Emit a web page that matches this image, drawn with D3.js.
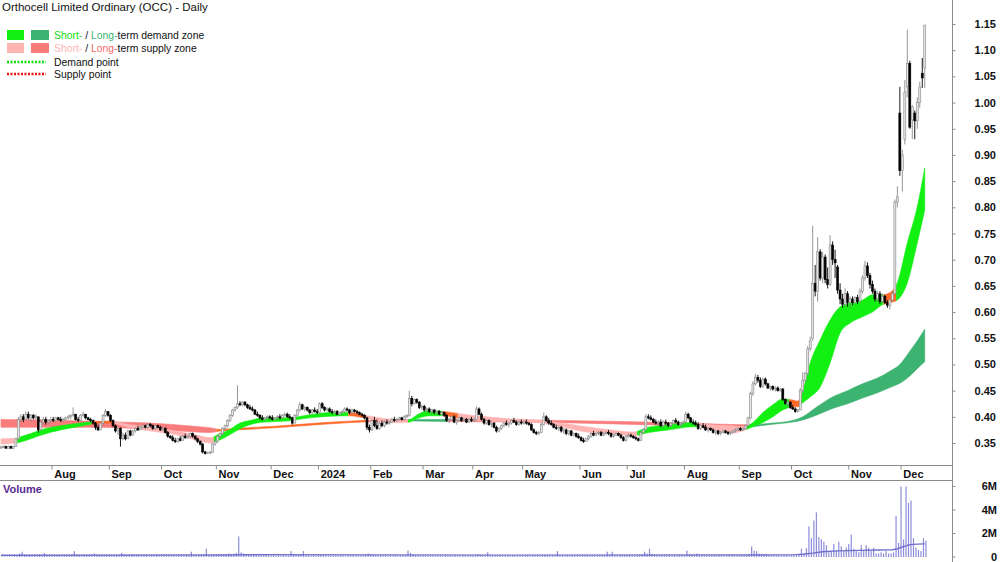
<!DOCTYPE html>
<html>
<head>
<meta charset="utf-8">
<script src="https://cdn.jsdelivr.net/npm/d3@7"></script>
<style>
  html, body { margin: 0; padding: 0; background: #fff; }
  svg { display: block; font-family: Arial, 'Liberation Sans', sans-serif; }
</style>
</head>
<body>
<svg id="chart" width="1000" height="562"></svg>
<script>
// trading calendar
const firstDay = '2023-07-03';
const lastDay = '2024-12-13';
const holidays = ['2023-12-25', '2023-12-26', '2024-01-01', '2024-01-26', '2024-03-29', '2024-04-01', '2024-04-25', '2024-06-10'];

// daily [open, high, low, close] in cents, one array per month
const jul23 = [[34,34.5,34,34.2],[34.2,34.5,34,34.3],[34.3,34.5,34,34],[34,34.5,34,34.3],[34.3,34.5,34,34],[34,34.5,33.8,34.3],[34.3,36,34.3,35.8],[35.8,40,35.5,39.5],[39.5,40.5,39,40],[40,40.5,39,39.5],[39.5,41,39.5,40.5],[40.5,41,39.5,39.8],[39.8,40.5,39,40.3],[40.3,40.5,39.5,39.8],[39.8,40.5,39.5,40],[40,40,37,37.5],[37.5,39.5,37.5,39],[39,40,38.5,39.5],[39.5,40,38.5,39],[39,39.5,38.5,39.3],[39.3,40,39,39.5]];
const aug23 = [[39.5,40,39,39.3],[39.3,40,39,39.8],[39.8,40,39.3,39.5],[39.5,40,39,39.3],[39.3,39.8,39,39.5],[39.5,40,39.3,39.8],[39.8,40.3,39.5,40],[40,40.5,39.5,40.3],[40.3,41.8,40,40.5],[40.5,40.5,39.3,39.5],[39.5,40,39,39.3],[39.3,40.5,39.3,40.3],[40.3,41,40,40.5],[40.5,40.5,39.5,39.8],[39.8,40,39.3,39.5],[39.5,39.8,39,39.3],[39.3,39.5,38.5,38.8],[38.8,39,37.5,38],[38,38.5,37.3,37.5],[37.5,39,37.5,38.8],[38.8,40.5,38.5,40.3],[40.3,41.5,40,41],[41,41,40,40.3]];
const sep23 = [[40.3,40.5,39,39.3],[39.3,39.5,38,38.3],[38.3,38.5,37,37.3],[37.3,38,36.5,37.8],[37.8,38,34.3,35.8],[35.8,37,35.5,36.5],[36.5,37,35.5,35.8],[35.8,37.5,35.8,37.3],[37.3,37.5,36.3,36.5],[36.5,37.5,36.5,37.3],[37.3,38,37,37.8],[37.8,38.3,37.3,37.5],[37.5,38.3,37.5,38],[38,38.5,37.8,38.3],[38.3,38.5,37.8,38],[38,38.8,37.8,38.5],[38.5,38.8,38,38.3],[38.3,38.5,37.5,37.8],[37.8,38.5,37.5,38.3],[38.3,38.5,37.8,38],[38,38.3,37.3,37.5]];
const oct23 = [[37.5,38,37.3,37.8],[37.8,38,36.8,37],[37,37.3,36,36.3],[36.3,36.5,35.8,36],[36,36.5,35.3,35.5],[35.5,36,35,35.3],[35.3,36,35,35.8],[35.8,36.3,35.3,35.5],[35.5,36.5,35.5,36.3],[36.3,36.8,35.8,36],[36,36.5,35.8,36.3],[36.3,37,36,36.8],[36.8,37,36,36.3],[36.3,36.5,35.5,35.8],[35.8,36,35,35.3],[35.3,35.5,34.5,34.8],[34.8,35,33,33.3],[33.3,33.5,32.8,33],[33,33.3,33,33.2],[33.2,33.5,33,33.2],[33.2,35,33.2,34.8],[34.8,35.5,34.5,35.3]];
const nov23 = [[35.3,36.5,35,36.3],[36.3,37,36,36.8],[36.8,38,36.5,37.8],[37.8,38.5,37.5,38.3],[38.3,39.5,38,39.3],[39.3,40.5,39,40.3],[40.3,41.5,40,41.3],[41.3,42,41,41.8],[41.8,46,41.5,42.5],[42.5,43,42,42.3],[42.3,43,42,42.8],[42.8,43,42,42.3],[42.3,42.5,41.5,41.8],[41.8,42.3,41.3,41.5],[41.5,42,41,41.3],[41.3,41.5,40.3,40.5],[40.5,41,40,40.3],[40.3,40.5,39.5,39.8],[39.8,40.3,39.3,39.5],[39.5,40,39.3,39.8],[39.8,40.3,39.5,40],[40,40.3,39.5,39.8]];
const dec23 = [[39.8,40.3,39.3,39.5],[39.5,40,39.3,39.8],[39.8,40.3,39.5,40],[40,40.5,39.5,39.8],[39.8,40.5,39.5,40.3],[40.3,40.8,40,40.5],[40.5,40.8,39.8,40],[40,40.5,39.5,39.8],[39.8,40,38.5,38.8],[38.8,40.5,38.8,40.3],[40.3,41.5,40,41.3],[41.3,42.8,41,42.3],[42.3,42.5,41.3,41.5],[41.5,42,41,41.8],[41.8,42,41,41.3],[41.3,41.5,40.5,40.8],[40.8,41.5,40.5,41.3],[41.3,41.8,40.8,41],[41,41.5,40.5,40.8]];
const jan24 = [[40.8,42.8,40.5,42.5],[42.5,42.8,41.5,41.8],[41.8,42,41,41.3],[41.3,41.8,41,41.5],[41.5,41.8,40.8,41],[41,41.5,40.5,40.8],[40.8,41.3,40.5,41],[41,41.3,40.3,40.5],[40.5,41,40.3,40.8],[40.8,41.3,40.5,41],[41,41.8,40.8,41.5],[41.5,41.8,41,41.3],[41.3,41.5,40.5,40.8],[40.8,41.5,40.5,41.3],[41.3,41.5,40.8,41],[41,41.3,40.5,40.8],[40.8,41,40.3,40.5],[40.5,40.8,40,40.3],[40.3,40.5,39.5,39.8],[39.8,40,37.5,38],[38,38.5,37,37.5]];
const feb24 = [[37.5,39.5,37.3,39.3],[39.3,40,38,38.3],[38.3,39.5,37.5,37.8],[37.8,39,37.5,38.8],[38.8,39.3,38,38.3],[38.3,39.3,38,39],[39,39.5,38.5,38.8],[38.8,39.3,38.5,39],[39,39.8,38.8,39.5],[39.5,40,39,39.3],[39.3,39.8,39,39.5],[39.5,40,39.3,39.8],[39.8,40,39.3,39.5],[39.5,40.3,39.3,40],[40,40.5,39.8,40.3],[40.3,45,40,43.5],[43.5,44,42,42.5],[42.5,43.5,42.3,43.3],[43.3,43.5,42.5,42.8],[42.8,43,41.5,41.8],[41.8,42.3,41.3,42]];
const mar24 = [[42,42.3,41,41.3],[41.3,41.8,40.8,41.5],[41.5,41.8,40.8,41],[41,41.5,40.5,41.3],[41.3,41.5,40.5,40.8],[40.8,41.3,40.5,41],[41,41.3,40.3,40.5],[40.5,41,40.3,40.8],[40.8,41,40,40.3],[40.3,40.5,39,39.3],[39.3,39.8,38.8,39.5],[39.5,40.3,39.3,40],[40,40.3,38.8,39],[39,39.5,38.5,39.3],[39.3,40,39,39.8],[39.8,40,39,39.3],[39.3,39.8,39,39.5],[39.5,39.8,38.8,39],[39,39.8,38.8,39.5],[39.5,40,39,39.3]];
const apr24 = [[39.3,39.8,39,39.5],[39.5,42,39.5,41.5],[41.5,41.8,40.3,40.5],[40.5,40.8,39.3,39.5],[39.5,39.8,38.5,38.8],[38.8,39.5,38.5,39.3],[39.3,39.5,38.3,38.5],[38.5,39,38,38.8],[38.8,39,37.8,38],[38,38.3,37,37.3],[37.3,38,37,37.8],[37.8,38.5,37.5,38.3],[38.3,39,38,38.8],[38.8,39.3,38.3,38.5],[38.5,39,38,38.8],[38.8,39.5,38.5,39.3],[39.3,39.8,38.8,39],[39,39.3,38.3,38.5],[38.5,39.3,38.3,39],[39,39.5,38.5,38.8]];
const may24 = [[38.8,39.3,38.5,39],[39,39.5,38.5,38.8],[38.8,39,38.3,38.5],[38.5,38.8,37.3,37.5],[37.5,37.8,36.8,37],[37,37.3,36.5,36.8],[36.8,37.3,36.5,37],[37,38.8,37,38.5],[38.5,40.8,38.3,40],[40,40.3,39,39.3],[39.3,39.8,38.5,38.8],[38.8,39.3,38.3,38.5],[38.5,38.8,37.8,38],[38,38.5,37.5,37.8],[37.8,38.3,37.3,38],[38,38.3,37,37.3],[37.3,37.8,36.8,37.5],[37.5,37.8,36.5,36.8],[36.8,37.5,36.5,37.3],[37.3,37.5,36.3,36.5],[36.5,37,36.3,36.8],[36.8,37,36,36.3],[36.3,36.8,35.8,36]];
const jun24 = [[36,36.3,35.3,35.5],[35.5,36,35,35.3],[35.3,36,35.3,35.8],[35.8,36.5,35.5,36.3],[36.3,37,36,36.8],[36.8,37.3,36.3,36.5],[36.5,37,36.3,36.8],[36.8,37.3,36.5,37],[37,37.3,36.3,36.5],[36.5,37,36.3,36.8],[36.8,37.3,36.5,37],[37,37.5,36.5,36.8],[36.8,37,36,36.3],[36.3,36.8,36,36.5],[36.5,37,36.3,36.8],[36.8,37,36.3,36.5],[36.5,36.8,35.8,36],[36,36.3,35.3,35.5],[35.5,36.5,35.3,36.3]];
const jul24 = [[36.3,36.8,36,36.5],[36.5,36.8,36,36.3],[36.3,36.5,35.8,36],[36,36.3,35.5,35.8],[35.8,36,35.3,35.5],[35.5,37.3,35.5,37],[37,37.8,36.8,37.5],[37.5,40.5,37.5,40],[40,40.5,39.5,39.8],[39.8,40.3,39.3,39.5],[39.5,39.8,38.8,39],[39,39.5,38.5,38.8],[38.8,39.3,38.3,39],[39,39.5,38,38.3],[38.3,39.3,38,39],[39,39.5,38.5,38.8],[38.8,39,38,38.3],[38.3,39,38,38.8],[38.8,39.5,38.5,39.3],[39.3,39.8,38.8,39],[39,39.3,38.3,38.5],[38.5,39,38,38.8],[38.8,39.3,38.5,39]];
const aug24 = [[39,41,38.8,40.5],[40.5,40.8,39.5,39.8],[39.8,40,38.8,39],[39,39.5,38.5,38.8],[38.8,39.3,38.3,38.5],[38.5,39,37.5,37.8],[37.8,38.5,37.5,38.3],[38.3,38.8,37.8,38],[38,38.5,37.3,37.5],[37.5,38,37,37.8],[37.8,38,37.3,37.5],[37.5,37.8,36.8,37],[37,37.5,36.5,37.3],[37.3,37.5,36.5,36.8],[36.8,37.3,36.5,37],[37,37.5,36.8,37.3],[37.3,37.5,36.8,37],[37,37.3,36.5,36.8],[36.8,37.3,36.5,37],[37,37.5,36.8,37.3],[37.3,37.8,37,37.5],[37.5,38,37.3,37.8]];
const sep24 = [[37.8,38,37.3,37.5],[37.5,38,37.3,37.8],[37.8,38.5,37.5,38.3],[38.3,40,38,39.8],[39.8,44.8,39.5,44.5],[44.5,46.8,44,46.3],[46.3,48.2,46,47.5],[47.5,48,46.5,47],[47,47.5,45.5,45.8],[45.8,47.5,45.5,47.2],[47.2,47.5,46,46.3],[46.3,46.5,45.3,45.5],[45.5,46,45,45.8],[45.8,46,45,45.3],[45.3,45.8,44.8,45.5],[45.5,45.8,44.8,45],[45,45.5,44.8,45.3],[45.3,45.5,43,43.3],[43.3,43.5,42.3,42.5],[42.5,43,41.8,42.8],[42.8,43,41.5,41.8]];
const oct24 = [[41.8,42.3,41.3,41.5],[41.5,41.8,40.8,41],[41,41.5,40.8,41.3],[41.3,45.5,41.3,45],[45,48.5,44.5,47],[47,48.6,46.5,48.3],[48.3,53.5,48,53],[53,55.3,52.5,54.5],[55,76.5,54.5,65.5],[65.5,69,63,64],[64,74.3,62,71.5],[71.5,72,66,66.5],[66.5,71.5,65.5,70.5],[70.5,71,65.5,66.2],[66.2,68.5,64.5,65.3],[65.3,74.7,65,72.8],[72.8,73.5,69,70],[70,71.9,66.5,69.4],[68.6,69,63.5,64.2],[64.2,65.5,61.5,62.5],[62.5,63.5,60.8,61.5],[61.5,64.5,61,63.5],[63.5,64,61,61.8]];
const nov24 = [[61.8,63,60.8,62.5],[62.5,63,61.3,61.8],[61.8,63,61.5,62.8],[62.8,63.3,61.5,62],[62,64.5,61.8,64],[64,67,63.5,66.5],[66.5,69.8,66,68.8],[68.8,69.5,66.5,67],[67,67.5,64.5,65.3],[65.3,66,63.5,64],[64,64.5,62,62.5],[62.5,64,62,63.5],[63.5,64,61.5,62],[62,63.5,61.8,63],[63,63.3,61.5,61.8],[61.8,62.3,60.8,61.3],[61.3,62.5,60.5,62.3],[62.3,64,62,63.5],[63.5,81.5,63.5,81],[81,84,80,82],[98,103,86,87]];
const dec24 = [[87,91,83,90],[93,104.3,92,102],[103,113.9,101,107.5],[107.5,108,95,95.3],[96.7,99.5,93,99.2],[98,98.5,93,96.5],[96.5,101,95,100],[100,104,99,103],[105.6,108.5,102.8,104.7],[106.6,114.8,102.8,114.8]];

// daily volume in thousands, one array per month
const volJul23 = [60,50,40,70,50,80,150,300,450,200,150,120,100,180,140,220,130,350,110,90,100];
const volAug23 = [120,90,110,80,130,100,90,150,500,160,120,90,100,140,110,80,300,130,150,110,90,160,120];
const volSep23 = [110,130,150,120,350,200,140,100,90,120,80,100,70,90,110,80,100,90,120,80,100];
const volOct23 = [100,90,120,80,110,70,90,100,80,120,90,450,100,80,130,150,200,700,120,90,150,200];
const volNov23 = [250,200,180,220,300,250,280,350,1750,400,300,250,200,180,150,200,130,120,110,140,100,90];
const volDec23 = [100,90,120,80,110,100,90,500,250,150,200,200,500,120,100,90,110,80,100];
const volJan24 = [150,120,100,90,110,80,100,90,120,80,70,100,90,110,80,100,90,120,150,300,200];
const volFeb24 = [150,120,100,130,90,110,80,100,90,120,80,100,110,150,550,350,200,150,120,100,110];
const volMar24 = [120,100,90,110,80,100,90,80,120,90,100,80,110,90,70,100,90,80,100,90];
const volApr24 = [100,250,150,120,100,400,90,110,80,100,120,90,80,100,90,110,80,70,100,90];
const volMay24 = [90,100,80,120,110,90,100,150,200,120,100,90,80,500,110,90,80,100,90,110,80,100,90];
const volJun24 = [120,100,90,80,110,90,100,80,90,110,450,90,450,100,80,90,110,120,150];
const volJul24 = [100,90,80,110,120,200,450,300,700,250,150,120,100,140,90,110,100,80,120,90,100,110,90];
const volAug24 = [550,200,150,120,300,100,110,90,80,100,90,120,80,100,90,70,80,100,90,110,80,100];
const volSep24 = [100,120,150,250,900,550,500,300,200,250,150,120,100,110,90,100,80,150,120,100,130];
const volOct24 = [150,120,200,700,300,750,2600,1600,3100,3800,1700,1500,1300,1000,400,500,1100,600,1300,900,500,800,1100];
const volNov24 = [1900,700,500,400,1000,500,1000,800,500,800,300,300,400,300,500,300,300,400,3500,1200,6000];
const volDec24 = [1500,6000,4600,4800,1600,800,600,500,1600,1400];

// volume moving average [day index, thousands]
const volumeAvg = [[0,150],[90,170],[100,190],[200,160],[300,170],[318,180],[322,230],[326,330],[330,450],[336,520],[345,560],[352,600],[358,620],[360,700],[362,850],[365,1050],[368,1100],[371,1120]];

// zones: [day index, upper, lower] in cents
const shortBand = [[0,35.8,34.8],[6,35.9,35.0],[8,36.2,35.2],[12,36.8,35.8],[16,37.5,36.5],[24,38.3,37.5],[32,38.8,38.2],[38,39.1,38.7],[44,39.2,38.8],[52,38.5,37.9],[60,38.1,37.3],[70,37.3,36.6],[78,36.6,35.6],[84,36.0,35.0],[88,36.8,35.6],[92,37.6,36.6],[96,38.8,37.7],[100,39.3,38.5],[106,39.8,39.0],[115,39.8,39.2],[124,40.4,39.8],[132,40.8,40.1],[140,40.8,40.2],[146,40.3,39.8],[155,39.6,38.9],[163,39.3,38.9],[168,40.6,39.8],[172,41.2,40.2],[178,41.0,40.2],[184,40.6,39.7],[195,40.0,39.2],[205,39.6,39.0],[215,39.4,38.9],[225,38.8,38.1],[235,38.1,37.1],[245,37.5,36.8],[254,37.1,36.4],[260,38.0,37.0],[268,38.5,37.5],[278,38.9,38.1],[285,38.5,37.7],[293,38.3,36.9],[299,38.1,37.5],[302,38.9,38.1],[306,40.8,38.9],[310,42.3,40.0],[314,43.4,41.3],[318,43.2,41.9],[320,43.0,41.9],[322,45.0,42.7],[325,50.3,43.8],[329,54.7,45.7],[333,58.5,50.3],[337,61.0,56.0],[341,61.8,57.9],[346,62.3,59.1],[350,63.3,60.0],[354,63.3,61.4],[357,63.7,61.8],[360,65.6,62.3],[364,73.2,65.6],[368,80.1,73.2],[371,87.5,79.5]];
const longBand = [[0,39.5,38.0],[20,39.4,38.0],[40,39.1,38.0],[60,38.8,37.6],[75,38.3,37.2],[84,37.9,37.0],[88,37.6,37.3],[95,37.8,37.5],[110,38.2,37.9],[130,38.9,38.6],[145,39.3,39.0],[165,39.5,39.2],[180,39.5,39.1],[210,39.4,39.0],[250,39.1,38.6],[275,38.8,38.3],[300,38.5,38.1],[310,38.8,38.6],[318,39.3,39.0],[322,40.0,39.4],[328,42.0,40.4],[334,43.8,41.6],[340,45.0,42.5],[346,46.3,43.6],[352,47.4,44.6],[357,48.7,45.6],[361,50.0,46.4],[365,52.5,47.8],[368,54.5,49.2],[371,56.7,50.5]];

// colour runs along each band: [from index, to index, zone]
const shortRuns = [[0,6,'ss'],[7,36,'sd'],[37,45,'mix'],[46,85,'ss'],[86,139,'sd'],[140,146,'mix'],[147,163,'ss'],[164,177,'sd'],[178,183,'mix'],[184,255,'ss'],[256,279,'sd'],[280,299,'ss'],[300,316,'sd'],[317,321,'mix'],[322,354,'sd'],[355,359,'mix'],[360,371,'sd']];
const longRuns = [[0,86,'ls'],[87,146,'mix'],[147,163,'ls'],[164,179,'ld'],[180,300,'ls'],[301,371,'ld']];

const priceTicks = [0.35,0.40,0.45,0.50,0.55,0.60,0.65,0.70,0.75,0.80,0.85,0.90,0.95,1.00,1.05,1.10,1.15];
const volumeTicks = [0, 2000, 4000, 6000];
const volumeTickLabels = ['0', '2M', '4M', '6M'];

const zoneColors = { sd: '#11f011', ld: '#3cb371', ss: '#ffb4b4', ls: '#f87c7c', mix: '#ff6a2a' };

const ohlc = [].concat(jul23, aug23, sep23, oct23, nov23, dec23, jan24, feb24, mar24, apr24, may24, jun24, jul24, aug24, sep24, oct24, nov24, dec24);
const volumes = [].concat(volJul23, volAug23, volSep23, volOct23, volNov23, volDec23, volJan24, volFeb24, volMar24, volApr24, volMay24, volJun24, volJul24, volAug24, volSep24, volOct24, volNov24, volDec24);

const parse = d3.timeParse('%Y-%m-%d');
const fmtDay = d3.timeFormat('%Y-%m-%d');
const days = d3.timeDay.range(parse(firstDay), d3.timeDay.offset(parse(lastDay), 1))
  .filter((d) => d.getDay() !== 0 && d.getDay() !== 6 && !holidays.includes(fmtDay(d)));

const svg = d3.select('#chart');
const axisX = 952.5;
const priceBottom = 465.5;
const volTop = 480.5;
const step = 2.49;
const n = ohlc.length;

const x = d3.scaleLinear().domain([0, n - 1]).range([0.95, 0.95 + step * (n - 1)]);
const y = d3.scaleLinear().domain([35, 115]).range([443, 24]);
const yv = d3.scaleLinear().domain([0, 6000]).range([557, 486.5]);

// panel lines
svg.append('line').attr('x1', axisX).attr('x2', axisX).attr('y1', 0).attr('y2', 562).attr('stroke', '#8c8c8c');
svg.append('line').attr('x1', 0).attr('x2', axisX).attr('y1', priceBottom).attr('y2', priceBottom).attr('stroke', '#8c8c8c');
svg.append('line').attr('x1', 0).attr('x2', axisX).attr('y1', volTop).attr('y2', volTop).attr('stroke', '#8c8c8c');

// zones
const defs = svg.append('defs');
function drawBand(points, runs, key) {
  const area = d3.area()
    .x((d) => x(d[0]))
    .y0((d) => y(d[2]))
    .y1((d) => y(d[1]))
    .curve(d3.curveMonotoneX);
  const g = svg.append('g');
  runs.forEach((r, k) => {
    const id = `clip-${key}-${k}`;
    defs.append('clipPath').attr('id', id)
      .append('rect')
      .attr('x', x(r[0]) - step / 2)
      .attr('width', x(r[1]) - x(r[0]) + step)
      .attr('y', 0)
      .attr('height', priceBottom);
    g.append('path')
      .datum(points)
      .attr('clip-path', `url(#${id})`)
      .attr('fill', zoneColors[r[2]])
      .attr('stroke', zoneColors[r[2]])
      .attr('stroke-width', 0.6)
      .attr('d', area);
  });
}
drawBand(longBand, longRuns, 'long');
drawBand(shortBand, shortRuns, 'short');

// candles
const candle = svg.append('g')
  .selectAll('g')
  .data(ohlc)
  .join('g');

candle.append('line')
  .attr('x1', (d, i) => x(i))
  .attr('x2', (d, i) => x(i))
  .attr('y1', (d) => y(d[1]))
  .attr('y2', (d) => y(d[2]))
  .attr('stroke', (d) => (d[3] >= d[0] ? '#8a8a8a' : '#000'))
  .attr('stroke-width', 0.9);

candle.append('rect')
  .attr('x', (d, i) => x(i) - 1)
  .attr('width', 2)
  .attr('y', (d) => y(Math.max(d[0], d[3])))
  .attr('height', (d) => Math.max(0.8, Math.abs(y(d[0]) - y(d[3]))))
  .attr('fill', (d) => (d[3] >= d[0] ? '#e4e4e4' : '#000'))
  .attr('stroke', (d) => (d[3] >= d[0] ? '#8a8a8a' : '#000'))
  .attr('stroke-width', 0.6);

// price axis
const yAxis = d3.axisRight(y)
  .tickValues(priceTicks.map((v) => v * 100))
  .tickSize(3)
  .tickFormat((v) => (v / 100).toFixed(2));

svg.append('g')
  .attr('transform', `translate(${axisX},0)`)
  .call(yAxis)
  .call((g) => g.select('.domain').remove())
  .call((g) => g.selectAll('.tick line').attr('stroke', '#8c8c8c'))
  .call((g) => g.selectAll('.tick text')
    .attr('x', 43.5)
    .attr('text-anchor', 'end')
    .attr('font-family', 'Arial, Liberation Sans, sans-serif')
    .attr('font-size', 11)
    .attr('font-weight', 'bold')
    .attr('fill', '#111'));

// month axis
const monthStarts = days
  .map((d, i) => ({ d, i }))
  .filter((e, k, arr) => k > 0 && e.d.getMonth() !== arr[k - 1].d.getMonth() && e.i < n);

const monthG = svg.append('g');
monthG.selectAll('line')
  .data(monthStarts)
  .join('line')
  .attr('x1', (e) => x(e.i) - step / 2)
  .attr('x2', (e) => x(e.i) - step / 2)
  .attr('y1', priceBottom)
  .attr('y2', priceBottom + 4)
  .attr('stroke', '#8c8c8c');
monthG.selectAll('text')
  .data(monthStarts)
  .join('text')
  .attr('x', (e) => x(e.i) + 1)
  .attr('y', 477.5)
  .attr('font-size', 11)
  .attr('font-weight', 'bold')
  .attr('fill', '#111')
  .text((e) => (e.d.getMonth() === 0 ? d3.timeFormat('%Y')(e.d) : d3.timeFormat('%b')(e.d)));

// volume
svg.append('g')
  .selectAll('rect')
  .data(volumes)
  .join('rect')
  .attr('x', (d, i) => x(i) + 0.6)
  .attr('width', 1.2)
  .attr('y', (d) => yv(d))
  .attr('height', (d) => yv(0) - yv(d))
  .attr('fill', '#8d8ddb');

svg.append('path')
  .datum(volumeAvg)
  .attr('fill', 'none')
  .attr('stroke', '#7070cc')
  .attr('stroke-width', 1.4)
  .attr('d', d3.line().x((d) => x(d[0])).y((d) => yv(d[1])));

const vAxis = svg.append('g').attr('transform', `translate(${axisX},0)`);
vAxis.selectAll('line')
  .data(volumeTicks)
  .join('line')
  .attr('x1', 0).attr('x2', 3)
  .attr('y1', (d) => yv(d)).attr('y2', (d) => yv(d))
  .attr('stroke', '#8c8c8c');
vAxis.selectAll('text')
  .data(volumeTicks)
  .join('text')
  .attr('x', 44.5)
  .attr('y', (d) => yv(d))
  .attr('dy', '0.35em')
  .attr('text-anchor', 'end')
  .attr('font-size', 11)
  .attr('font-weight', 'bold')
  .attr('fill', '#111')
  .text((d, k) => volumeTickLabels[k]);

svg.append('text')
  .attr('x', 3).attr('y', 493)
  .attr('font-size', 11)
  .attr('font-weight', 'bold')
  .attr('fill', '#5a2a92')
  .text('Volume');

// title and legend
svg.append('text')
  .attr('x', 2).attr('y', 11)
  .attr('font-size', 11.5)
  .attr('fill', '#111')
  .text('Orthocell Limited Ordinary (OCC) - Daily');

const legend = svg.append('g').attr('font-size', 10.4).attr('fill', '#111');
legend.append('rect').attr('x', 7).attr('y', 30).attr('width', 17).attr('height', 10).attr('fill', zoneColors.sd);
legend.append('rect').attr('x', 31).attr('y', 30).attr('width', 18).attr('height', 10).attr('fill', zoneColors.ld);
legend.append('rect').attr('x', 7).attr('y', 43).attr('width', 17).attr('height', 10).attr('fill', zoneColors.ss);
legend.append('rect').attr('x', 31).attr('y', 43).attr('width', 18).attr('height', 10).attr('fill', zoneColors.ls);

const row1 = legend.append('text').attr('x', 54).attr('y', 39);
row1.append('tspan').attr('fill', '#11dd11').text('Short-');
row1.append('tspan').text(' / ');
row1.append('tspan').attr('fill', '#3cb371').text('Long-');
row1.append('tspan').text('term demand zone');

const row2 = legend.append('text').attr('x', 54).attr('y', 52);
row2.append('tspan').attr('fill', '#ffb4b4').text('Short-');
row2.append('tspan').text(' / ');
row2.append('tspan').attr('fill', '#f86a6a').text('Long-');
row2.append('tspan').text('term supply zone');

legend.append('line').attr('x1', 7).attr('x2', 46).attr('y1', 62).attr('y2', 62)
  .attr('stroke', '#11dd11').attr('stroke-width', 2.5).attr('stroke-dasharray', '2,1.5');
legend.append('text').attr('x', 54).attr('y', 65.5).text('Demand point');
legend.append('line').attr('x1', 7).attr('x2', 46).attr('y1', 74).attr('y2', 74)
  .attr('stroke', '#ee1111').attr('stroke-width', 2.5).attr('stroke-dasharray', '2,1.5');
legend.append('text').attr('x', 54).attr('y', 78).text('Supply point');
</script>
</body>
</html>
